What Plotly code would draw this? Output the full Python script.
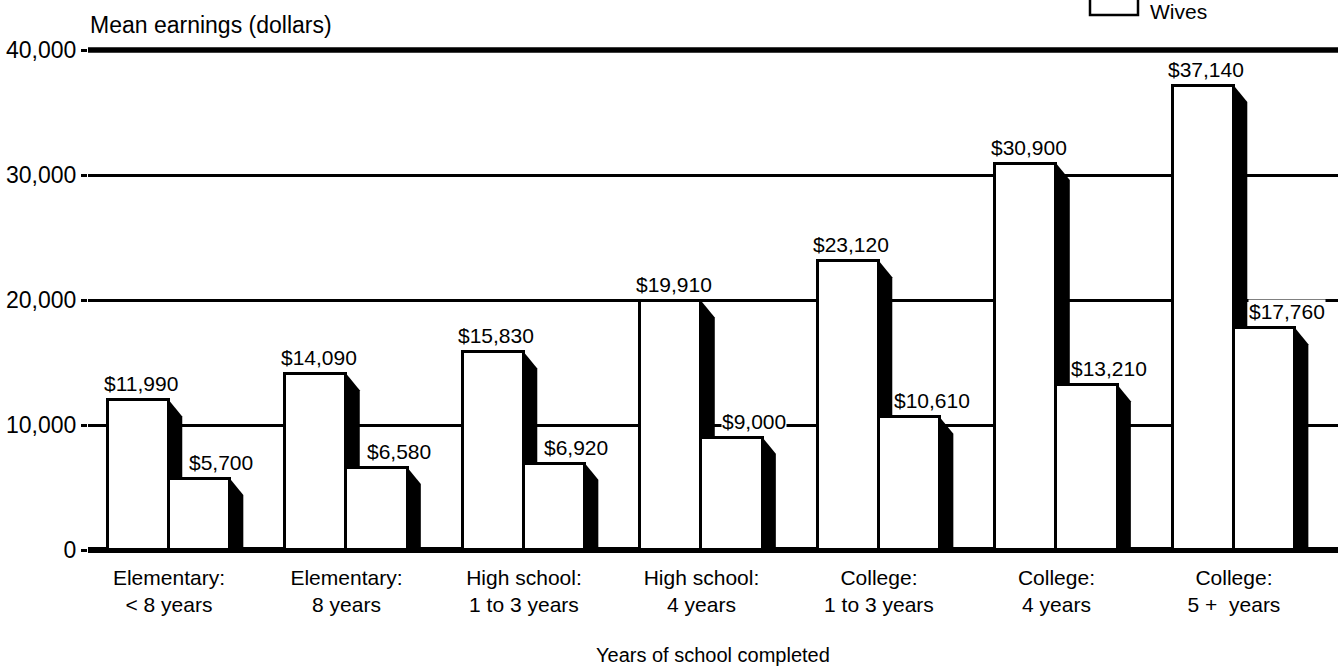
import plotly.graph_objects as go

# ---------------- data ----------------
categories = [
    "Elementary:<br>< 8 years",
    "Elementary:<br>8 years",
    "High school:<br>1 to 3 years",
    "High school:<br>4 years",
    "College:<br>1 to 3 years",
    "College:<br>4 years",
    "College:<br>5 +  years",
]
husbands = [11990, 14090, 15830, 19910, 23120, 30900, 37140]
wives = [5700, 6580, 6920, 9000, 10610, 13210, 17760]
y_ticks = [0, 10000, 20000, 30000, 40000]
y_tick_text = ["0", "10,000", "20,000", "30,000", "40,000"]
y_title = "Mean earnings (dollars)"
x_title = "Years of school completed"
legend_label = "Wives"

# ---------------- style / layout ----------------
FONT = "Liberation Sans, Arial, Helvetica, sans-serif"
W, H = 1344, 669
M_L, M_R, M_T, M_B = 88, 6, 45, 114
PLOT_W = W - M_L - M_R
PLOT_H = H - M_T - M_B
BAR_W = 0.344        # width of one bar in category units
SHADOW_W = 0.075     # depth of the black side face
BEVEL = 1300         # vertical drop of the side face top
X_RANGE = [-0.456, 6.586]
Y_RANGE = [-400, 40400]

pos = list(range(len(categories)))

fig = go.Figure()

bar_style = dict(color="white", line=dict(color="black", width=3))
fig.add_trace(go.Bar(x=pos, y=husbands, width=BAR_W, offset=-BAR_W,
                     marker=bar_style, name="Husbands", showlegend=False,
                     hoverinfo="y"))
fig.add_trace(go.Bar(x=pos, y=wives, width=BAR_W, offset=0,
                     marker=bar_style, name="Wives", showlegend=False,
                     hoverinfo="y"))

shapes = []
# black side faces of the bars (drawn between gridlines and bars)
for xr_off, vals in ((0.0, husbands), (BAR_W, wives)):
    for p, v in zip(pos, vals):
        xr = p + xr_off
        path = (f"M {xr},{v} L {xr + SHADOW_W},{v - BEVEL} "
                f"L {xr + SHADOW_W},0 L {xr},0 Z")
        shapes.append(dict(type="path", path=path, xref="x", yref="y",
                           fillcolor="black", line=dict(width=0),
                           layer="between"))
# heavy top rule at 40,000
shapes.append(dict(type="line", xref="paper", x0=0, x1=1, yref="y",
                   y0=y_ticks[-1], y1=y_ticks[-1],
                   line=dict(color="black", width=5.5), layer="between"))

val_font = dict(family=FONT, size=21, color="black")
annotations = []
for p, v in zip(pos, husbands):
    annotations.append(dict(x=p - BAR_W / 2, y=v, xref="x", yref="y",
                            text=f"${v:,}", showarrow=False,
                            yanchor="bottom", yshift=4, xshift=3,
                            bgcolor="white", borderpad=0, font=val_font))
for p, v in zip(pos, wives):
    annotations.append(dict(x=p + BAR_W / 2, y=v, xref="x", yref="y",
                            text=f"${v:,}", showarrow=False,
                            yanchor="bottom", yshift=4, xshift=22,
                            bgcolor="white", borderpad=0, font=val_font))

# y-axis title (horizontal, top-left)
annotations.append(dict(x=0, y=1, xref="paper", yref="paper",
                        xanchor="left", yanchor="middle", yshift=20,
                        text=y_title, showarrow=False,
                        font=dict(family=FONT, size=23, color="black")))
# x-axis title
annotations.append(dict(x=0.5, y=0, xref="paper", yref="paper",
                        xanchor="center", yanchor="middle",
                        yshift=-(655 - (H - M_B)),
                        text=x_title, showarrow=False,
                        font=dict(family=FONT, size=20, color="black")))

# legend (partially cropped at the top, as in the original)
lx0 = (1090 - M_L) / PLOT_W
lx1 = (1138 - M_L) / PLOT_W
ly0 = 1 + (M_T - 15) / PLOT_H
ly1 = 1 + (M_T + 6) / PLOT_H
shapes.append(dict(type="rect", xref="paper", yref="paper",
                   x0=lx0, x1=lx1, y0=ly0, y1=ly1,
                   line=dict(color="black", width=2.5), fillcolor="white"))
annotations.append(dict(x=(1148 - M_L) / PLOT_W, y=1 + (M_T - 11) / PLOT_H,
                        xref="paper", yref="paper", xanchor="left",
                        yanchor="middle", text=legend_label, showarrow=False,
                        font=dict(family=FONT, size=21, color="black")))

fig.update_layout(
    width=W, height=H,
    margin=dict(l=M_L, r=M_R, t=M_T, b=M_B),
    paper_bgcolor="white", plot_bgcolor="white",
    barmode="overlay", bargap=0,
    showlegend=False,
    shapes=shapes, annotations=annotations,
    font=dict(family=FONT, color="black"),
)
fig.update_xaxes(range=X_RANGE, tickvals=pos, ticktext=categories,
                 showgrid=False, zeroline=False, showline=False, ticks="",
                 ticklabelstandoff=8,
                 tickfont=dict(family=FONT, size=21, color="black"),
                 fixedrange=True)
fig.update_yaxes(range=Y_RANGE, tickvals=y_ticks, ticktext=y_tick_text,
                 showgrid=True, gridcolor="black", gridwidth=2.8,
                 zeroline=True, zerolinecolor="black", zerolinewidth=5.5,
                 showline=False, ticks="outside", ticklen=6, tickwidth=3,
                 tickcolor="black",
                 tickfont=dict(family=FONT, size=23, color="black"),
                 fixedrange=True)

fig.write_html("out.html", config={"displayModeBar": False},
               post_script="document.body.style.margin='0';")
